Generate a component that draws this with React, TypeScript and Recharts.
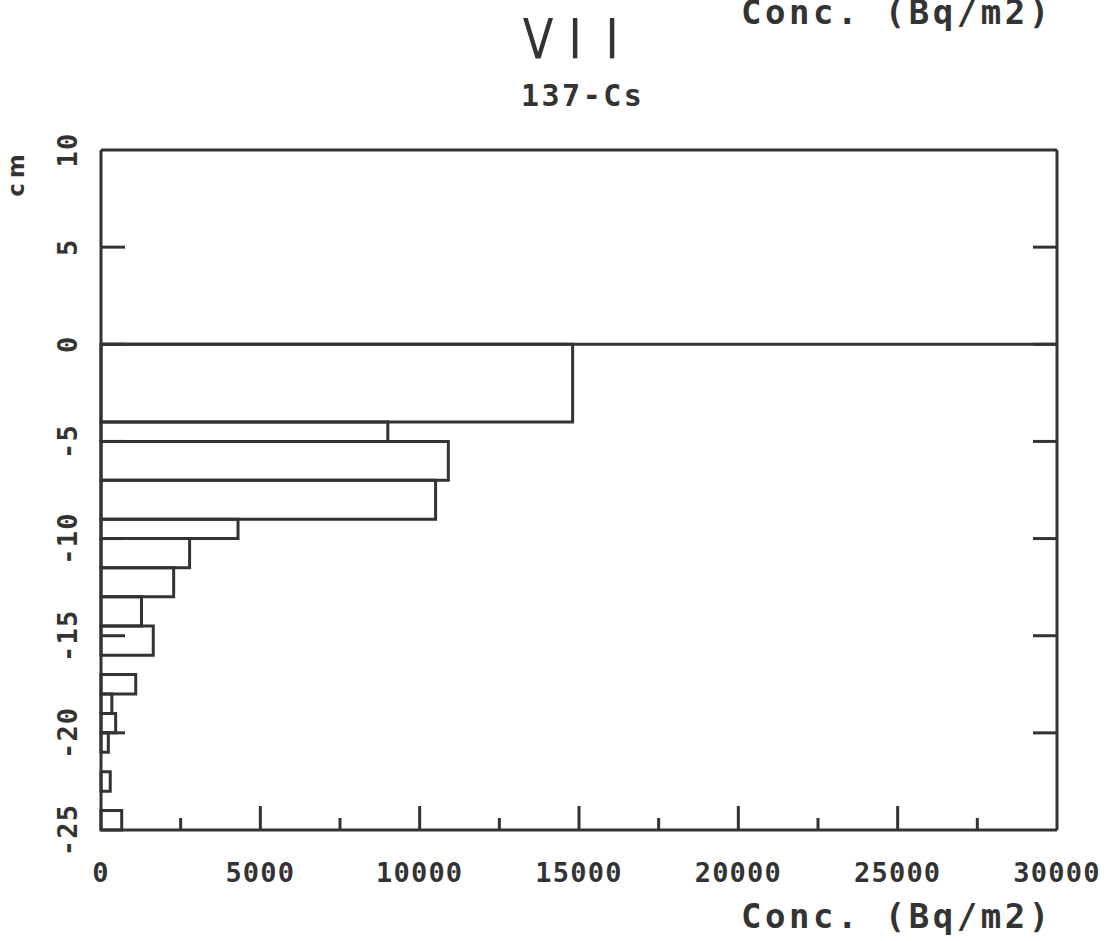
import React from "react";
import {
  ComposedChart,
  XAxis,
  YAxis,
  Scatter,
  ReferenceArea,
  ReferenceLine,
} from "recharts";

// Depth intervals (cm) and 137-Cs concentrations (Bq/m2)
const layerTop = [0, -4, -5, -7, -9, -10, -11.5, -13, -14.5, -17, -18, -19, -20, -22, -24];
const layerBottom = [-4, -5, -7, -9, -10, -11.5, -13, -14.5, -16, -18, -19, -20, -21, -23, -25];
const concValues = [14800, 9000, 10900, 10500, 4300, 2780, 2280, 1270, 1640, 1090, 340, 460, 230, 290, 650];

const xTicks = [0, 2500, 5000, 7500, 10000, 12500, 15000, 17500, 20000, 22500, 25000, 27500, 30000];
const yTicks = [-25, -20, -15, -10, -5, 0, 5, 10];

const titleLetters = ["V", "I", "I"];
const subtitleText = "137-Cs";
const xLabelText = "Conc. (Bq/m2)";
const yLabelText = "cm";

const rows = concValues.map((v, i) => ({ conc: v, top: layerTop[i], bottom: layerBottom[i] }));

const INK = "#333";
const MONO = "'DejaVu Sans Mono', 'Liberation Mono', monospace";
const SANS = "'DejaVu Sans', sans-serif";

const BottomTick = (props: any) => {
  const { x, y, payload } = props;
  const major = payload.value % 5000 === 0;
  const len = major ? 24 : 12;
  return (
    <g>
      {payload.value !== 0 && payload.value !== 30000 && (
        <line x1={x} x2={x} y1={y} y2={y - len} stroke={INK} strokeWidth={3} />
      )}
      {major && (
        <text
          x={x}
          y={y + 52}
          textAnchor="middle"
          fontFamily={MONO}
          fontWeight="bold"
          fontSize={27}
          letterSpacing={1.2}
          fill={INK}
        >
          {payload.value}
        </text>
      )}
    </g>
  );
};

const TopTick = (props: any) => {
  const { x, y, payload } = props;
  const major = payload.value % 5000 === 0;
  const len = major ? 24 : 12;
  if (payload.value === 0 || payload.value === 30000) return <g />;
  return <line x1={x} x2={x} y1={y} y2={y + len} stroke={INK} strokeWidth={3} />;
};

const LeftTick = (props: any) => {
  const { x, y, payload } = props;
  const edge = payload.value === 10 || payload.value === -25;
  const lx = x - 24;
  return (
    <g>
      {!edge && <line x1={x} x2={x + 24} y1={y} y2={y} stroke={INK} strokeWidth={3} />}
      <text
        x={lx}
        y={y}
        transform={`rotate(-90, ${lx}, ${y})`}
        textAnchor="middle"
        fontFamily={MONO}
        fontWeight="bold"
        fontSize={27}
        letterSpacing={1.2}
        fill={INK}
      >
        {payload.value}
      </text>
    </g>
  );
};

const RightTick = (props: any) => {
  const { x, y, payload } = props;
  if (payload.value === 10 || payload.value === -25) return <g />;
  return <line x1={x} x2={x - 24} y1={y} y2={y} stroke={INK} strokeWidth={3} />;
};

const titleCenters = [538, 575, 612];

export default function App() {
  return (
    <div style={{ position: "absolute", left: 0, top: 0, width: 1107, height: 941, background: "#fff" }}>
      <ComposedChart
        width={1107}
        height={941}
        data={rows}
        margin={{ top: 140, right: 40, bottom: 51, left: 41 }}
      >
        <XAxis
          xAxisId={0}
          type="number"
          dataKey="conc"
          domain={[0, 30000]}
          ticks={xTicks}
          orientation="bottom"
          height={60}
          tickSize={0}
          tickMargin={0}
          axisLine={{ stroke: INK, strokeWidth: 3 }}
          tickLine={false}
          tick={<BottomTick />}
          interval={0}
          allowDataOverflow
        />
        <XAxis
          xAxisId="top"
          type="number"
          domain={[0, 30000]}
          ticks={xTicks}
          orientation="top"
          height={10}
          tickSize={0}
          tickMargin={0}
          axisLine={{ stroke: INK, strokeWidth: 3 }}
          tickLine={false}
          tick={<TopTick />}
          interval={0}
          allowDataOverflow
        />
        <YAxis
          yAxisId={0}
          type="number"
          dataKey="top"
          domain={[-25, 10]}
          ticks={yTicks}
          orientation="left"
          width={60}
          tickSize={0}
          tickMargin={0}
          axisLine={{ stroke: INK, strokeWidth: 3 }}
          tickLine={false}
          tick={<LeftTick />}
          interval={0}
          allowDataOverflow
        />
        <YAxis
          yAxisId="right"
          type="number"
          domain={[-25, 10]}
          ticks={yTicks}
          orientation="right"
          width={10}
          tickSize={0}
          tickMargin={0}
          axisLine={{ stroke: INK, strokeWidth: 3 }}
          tickLine={false}
          tick={<RightTick />}
          interval={0}
          allowDataOverflow
        />
        <Scatter
          xAxisId={0}
          yAxisId={0}
          dataKey="top"
          fill="none"
          shape={() => <g />}
          isAnimationActive={false}
        />
        {rows.map((r, i) => (
          <ReferenceArea
            key={i}
            xAxisId={0}
            yAxisId={0}
            x1={0}
            x2={r.conc}
            y1={r.bottom}
            y2={r.top}
            fill="none"
            fillOpacity={0}
            stroke={INK}
            strokeWidth={3}
            ifOverflow="visible"
          />
        ))}
        <ReferenceLine xAxisId={0} yAxisId={0} y={0} stroke={INK} strokeWidth={3} />
        {titleLetters.map((ch, i) => (
          <text
            key={i}
            x={titleCenters[i]}
            y={58}
            textAnchor="middle"
            fontFamily={SANS}
            fontSize={56}
            fill={INK}
            transform={`translate(${titleCenters[i]}, 0) scale(0.8, 1) translate(${-titleCenters[i]}, 0)`}
          >
            {ch}
          </text>
        ))}
        <text
          x={521}
          y={106}
          textAnchor="start"
          fontFamily={MONO}
          fontWeight="bold"
          fontSize={30}
          letterSpacing={2.5}
          fill={INK}
        >
          {subtitleText}
        </text>
        <text
          x={741}
          y={24}
          textAnchor="start"
          fontFamily={MONO}
          fontWeight="bold"
          fontSize={34}
          letterSpacing={3.5}
          fill={INK}
        >
          {xLabelText}
        </text>
        <text
          x={741}
          y={928}
          textAnchor="start"
          fontFamily={MONO}
          fontWeight="bold"
          fontSize={34}
          letterSpacing={3.5}
          fill={INK}
        >
          {xLabelText}
        </text>
        <text
          x={24}
          y={173}
          transform="rotate(-90, 24, 173)"
          textAnchor="middle"
          fontFamily={SANS}
          fontWeight="bold"
          fontSize={23}
          letterSpacing={5}
          fill={INK}
        >
          {yLabelText}
        </text>
      </ComposedChart>
    </div>
  );
}
